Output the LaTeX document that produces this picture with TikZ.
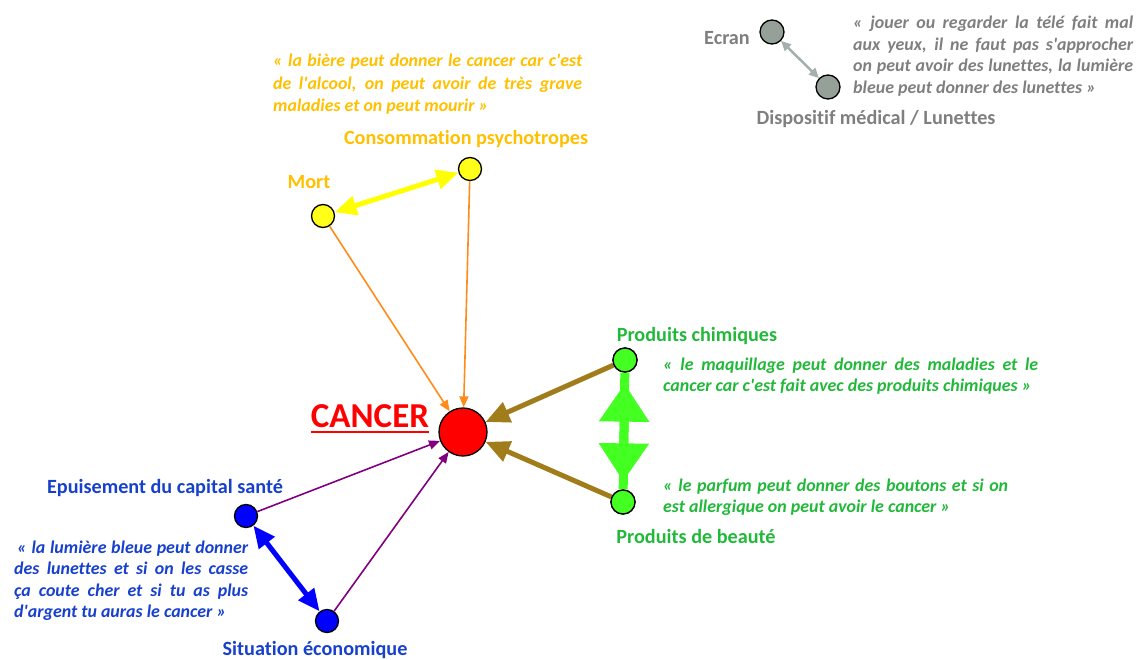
\documentclass[tikz,border=0pt]{standalone}
\usepackage{fontspec}
\setmainfont{Carlito}[Ligatures={TeXOff,NoCommon}]
\usetikzlibrary{arrows.meta}
\definecolor{goldtxt}{HTML}{FFC000}
\definecolor{ynode}{HTML}{FFFF1A}
\definecolor{yarr}{HTML}{FFFF00}
\definecolor{oarr}{HTML}{FF8C1A}
\definecolor{brarr}{HTML}{A07D1A}
\definecolor{gnode}{HTML}{44FF22}
\definecolor{gtxt}{HTML}{22B83A}
\definecolor{bnode}{HTML}{0000FF}
\definecolor{btxt}{HTML}{1740CC}
\definecolor{parr}{HTML}{800080}
\definecolor{greytxt}{HTML}{7F7F7F}
\definecolor{greynode}{HTML}{95A099}
\definecolor{greyarr}{HTML}{A4B0A9}
\newcommand{\qline}[2]{\makebox[#1][s]{#2}}
\begin{document}
\begin{tikzpicture}[x=1pt,y=-1pt,
  dot/.style={circle,draw=black,line width=1.3pt,inner sep=0pt,minimum size=23pt},
  lab/.style={font=\bfseries\fontsize{20.2}{24}\selectfont,inner sep=0pt,anchor=base},
  qt/.style={font=\bfseries\itshape\fontsize{17.9}{21.5}\selectfont,inner sep=0pt,anchor=base west},
  thinarr/.style={line width=1.6pt,-{Triangle[length=11pt,width=9pt]}},
  thickarr/.style={line width=5pt,{Triangle[length=22pt,width=19pt]}-{Triangle[length=22pt,width=19pt]}},
]
\useasboundingbox (0,0) rectangle (1140,660);

% nodes
\node[dot,fill=red,minimum size=48pt] (cancer) at (463,432) {};
\node[dot,fill=ynode] (mort) at (323,216) {};
\node[dot,fill=ynode] (conso) at (470,169) {};
\node[dot,fill=gnode,minimum size=24pt] (pc) at (625,360) {};
\node[dot,fill=gnode,minimum size=24pt] (pb) at (623,502) {};
\node[dot,fill=bnode] (epu) at (246,516) {};
\node[dot,fill=bnode] (sit) at (327,621) {};
\node[dot,fill=greynode,minimum size=24pt] (ecran) at (772,32) {};
\node[dot,fill=greynode,minimum size=24pt] (disp) at (828,87) {};

% labels
\node[font=\bfseries\fontsize{35}{40}\selectfont,text=red,inner sep=0pt,anchor=base] (clab) at (370,427) {CANCER};
\draw[red,line width=2pt] ([yshift=-5pt]clab.base west) -- ([yshift=-5pt]clab.base east);
\node[lab,text=goldtxt] (lmort) at (309,189) {Mort};
\node[lab,text=goldtxt] (lconso) at (466,145) {Consommation psychotropes};
\node[lab,text=gtxt] (lpc) at (697,341) {Produits chimiques};
\node[lab,text=gtxt] (lpb) at (696,543) {Produits de beauté};
\node[lab,text=btxt] (lepu) at (165,493) {Epuisement du capital santé};
\node[lab,text=btxt] (lsit) at (315,655) {Situation économique};
\node[lab,text=greytxt] (lecran) at (727,45) {Ecran};
\node[lab,text=greytxt] (ldisp) at (876,125) {Dispositif médical / Lunettes};

% quotes
\node[qt,text=goldtxt] (qy) at (273,67) {\fontsize{17.9}{22.5}\selectfont\parbox[t]{309pt}{%
\qline{309pt}{« la bière peut donner le cancer car c'est}\\
\qline{309pt}{de l'alcool, on peut avoir de très grave}\\
maladies et on peut mourir »}};
\node[qt,text=greytxt] (qg) at (853,29) {\parbox[t]{280pt}{%
\qline{280pt}{« jouer ou regarder la télé fait mal}\\
\qline{280pt}{aux yeux, il ne faut pas s'approcher}\\
\qline{280pt}{on peut avoir des lunettes, la lumière}\\
bleue peut donner des lunettes »}};
\node[qt,text=gtxt] (qpc) at (663,370) {\parbox[t]{375pt}{%
\qline{375pt}{« le maquillage peut donner des maladies et le}\\
cancer car c'est fait avec des produits chimiques »}};
\node[qt,text=gtxt] (qpb) at (663,491) {\parbox[t]{345pt}{%
\qline{345pt}{« le parfum peut donner des boutons et si on}\\
est allergique on peut avoir le cancer »}};
\node[qt,text=btxt] (qb) at (14,553) {\parbox[t]{234pt}{%
\qline{234pt}{\hspace{3pt}« la lumière bleue peut donner}\\
\qline{234pt}{des lunettes et si on les casse}\\
\qline{234pt}{ça coute cher et si tu as plus}\\
d'argent tu auras le cancer »}};

% connectors
\draw[thinarr,oarr] (mort) -- (cancer);
\draw[thinarr,oarr] (conso) -- (cancer);
\draw[thinarr,parr] (epu) -- (cancer);
\draw[thinarr,parr] (sit) -- (cancer);
\draw[thickarr,yarr] (mort) -- (conso);
\draw[thickarr,bnode] (epu) -- (sit);
\draw[brarr,line width=5pt,-{Triangle[length=24pt,width=21pt]}] (pc) -- (cancer);
\draw[brarr,line width=5pt,-{Triangle[length=24pt,width=21pt]}] (pb) -- (cancer);
\draw[greyarr,line width=2.5pt,{Triangle[length=10pt,width=9pt]}-{Triangle[length=10pt,width=9pt]}] (ecran) -- (disp);
\draw[gnode,line width=9pt] (pc) -- (pb);
\draw[gnode,line width=9pt,shorten <=11pt,shorten >=8pt,{Triangle[length=38pt,width=48pt]}-{Triangle[length=38pt,width=48pt]}] (pc) -- (pb);
% redraw nodes on top
\node[dot,fill=gnode,minimum size=24pt] at (pc) {};
\node[dot,fill=gnode,minimum size=24pt] at (pb) {};
\end{tikzpicture}
\end{document}
